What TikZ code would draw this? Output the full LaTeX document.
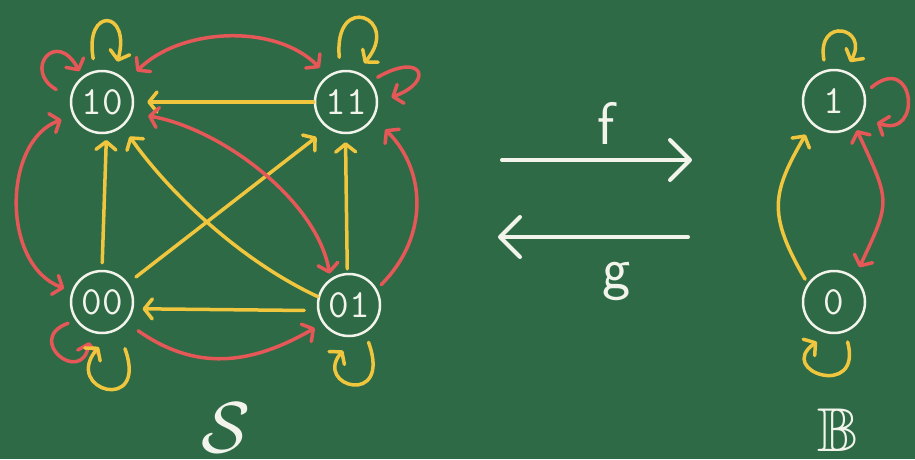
\documentclass[tikz,border=0pt]{standalone}
\usepackage{amssymb}
\usepackage{graphicx}
\usetikzlibrary{arrows.meta}
\definecolor{board}{RGB}{46,106,69}
\definecolor{chalk}{RGB}{242,244,236}
\definecolor{ylw}{RGB}{240,198,62}
\definecolor{rdc}{RGB}{230,88,88}
\tikzset{
  ctip/.tip={Straight Barb[length=8pt,width=20pt,line cap=round,line join=round]},
  bigtip/.tip={Straight Barb[length=20pt,width=40pt,line cap=round,line join=round]},
  st/.style={circle, draw=chalk, line width=2.5pt, minimum size=62pt, inner sep=0pt,
    text=chalk, font=\ttfamily\fontsize{40}{40}\selectfont},
  yl/.style={draw=ylw, line width=3.5pt, line cap=round, -ctip},
  rd/.style={draw=rdc, line width=3.5pt, line cap=round, -ctip},
  both/.style={ctip-ctip},
  wt/.style={draw=chalk, line width=4pt, line cap=round, -bigtip},
  lbl/.style={text=chalk, inner sep=0pt},
}
\begin{document}
\begin{tikzpicture}[x=1pt,y=-1pt]
\fill[board] (0,0) rectangle (915,459);
\useasboundingbox (0,0) rectangle (915,459);

% nodes of S
\node[st] (n10) at (102,102) {10};
\node[st] (n11) at (346,102) {11};
\node[st] (n00) at (102,302) {00};
\node[st] (n01) at (349,305) {01};
% nodes of B
\node[st] (b1) at (834,101) {1};
\node[st] (b0) at (834,302) {0};

% labels
\node[lbl] (lS) at (226,428) {\scalebox{7.2}{$\mathcal{S}$}};
\node[lbl, font=\fontsize{62}{62}\selectfont] (lB) at (838,430) {$\mathbb{B}$};

% f and g
\coordinate (fa) at (502,160);
\coordinate (fb) at (692,160);
\coordinate (ga) at (688,237);
\coordinate (gb) at (498,237);
\draw[wt] (fa) -- (fb);
\draw[wt] (ga) -- (gb);
\node[lbl, font=\sffamily\fontsize{60}{60}\selectfont] (lf) at (606,123) {f};
\node[lbl, font=\sffamily\fontsize{60}{60}\selectfont] (lg) at (617,281) {g};

% yellow straight edges
\draw[yl, shorten >=13pt] (n11.180) -- (n10.0);
\draw[yl, shorten <=13pt, shorten >=9pt] (n01.190) -- (n00.-12);
\draw[yl, shorten <=7pt, shorten >=6pt] (n00.90) -- (n10.-82);
\draw[yl, shorten <=10pt, shorten >=14pt] (n00.36) -- (n11.235);
\draw[yl, shorten <=4pt, shorten >=8pt] (n01.93) -- (n11.-91);
% yellow curved 01 -> 10
\draw[yl, shorten >=12pt] (n01.165) .. controls +(155:90pt) and +(-55:75pt) .. (n10.-50);

% red edges
\draw[rd, both, shorten <=14pt, shorten >=11pt] (n10.40) .. controls +(45:75pt) and +(135:75pt) .. (n11.125);
\draw[rd, both, shorten <=12pt, shorten >=8pt] (n10.205) .. controls +(200:75pt) and +(160:75pt) .. (n00.160);
\draw[rd, shorten <=6pt, shorten >=16pt] (n01.30) .. controls +(45:74pt) and +(-45:74pt) .. (n11.-30);
\draw[rd, shorten <=14pt, shorten >=9pt] (n00.-40) .. controls +(-35:84pt) and +(210:84pt) .. (n01.215);
\draw[rd, both, shorten <=16pt, shorten >=5pt] (n10.-20) .. controls +(-10:90pt) and +(100:80pt) .. (n01.125);

% self loops of S
\draw[yl, shorten <=12pt, shorten >=11pt] (n10.102) .. controls +(100:65pt) and +(75:65pt) .. (n10.67);
\draw[rd, shorten <=16pt, shorten >=6pt] (n10.172) .. controls +(150:55pt) and +(118:55pt) .. (n10.128);
\draw[yl, shorten <=13pt, shorten >=11pt] (n11.100) .. controls +(95:80pt) and +(50:70pt) .. (n11.70);
\draw[rd, shorten <=8pt, shorten >=14pt] (n11.40) .. controls +(30:60pt) and +(20:60pt) .. (n11.0);
\draw[rd, shorten <=8pt, shorten >=10pt] (n00.215) .. controls +(200:55pt) and +(260:55pt) .. (n00.250);
\draw[yl, shorten <=20pt, shorten >=18pt] (n00.300) .. controls +(-70:90pt) and +(230:75pt) .. (n00.285);
\draw[yl, shorten <=10pt, shorten >=18pt] (n01.300) .. controls +(-70:80pt) and +(230:65pt) .. (n01.280);

% B edges
\draw[yl, shorten <=5pt, shorten >=12pt] (b0.145) .. controls +(120:80pt) and +(240:80pt) .. (b1.226);
\draw[rd, both, shorten <=5pt, shorten >=11pt] (b1.-50) .. controls +(-65:85pt) and +(65:85pt) .. (b0.50);
\draw[yl, shorten <=10pt, shorten >=10pt] (b1.105) .. controls +(100:55pt) and +(60:50pt) .. (b1.70);
\draw[rd, shorten <=8pt, shorten >=16pt] (b1.15) .. controls +(40:65pt) and +(-20:65pt) .. (b1.-30);
\draw[yl, shorten <=10pt, shorten >=14pt] (b0.290) .. controls +(-75:70pt) and +(215:65pt) .. (b0.260);
\end{tikzpicture}
\end{document}
